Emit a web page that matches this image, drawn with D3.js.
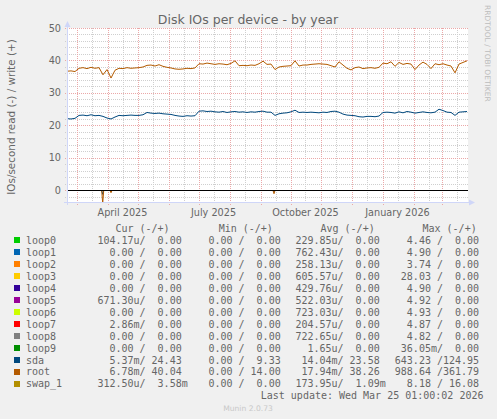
<!DOCTYPE html>
<html><head><meta charset="utf-8">
<script src="https://cdn.jsdelivr.net/npm/d3@7"></script>
<style>
html,body{margin:0;padding:0;background:#F0F0F0;}
svg{display:block;}
text{font-family:"DejaVu Sans",sans-serif;fill:#666666;}
.mono{font-family:"DejaVu Sans Mono",monospace;white-space:pre;}
</style></head><body>
<svg id="c" width="497" height="419"></svg>
<script>
// ---------- data ----------
const startDate = "2025-02-19T12:00:00Z";
const endDate = "2026-03-26T12:00:00Z";
const stepDays = 4;
// write (+) series, one value every 4 days from startDate
const rootWrite = [36.7,36.8,36.6,37.6,37.8,37.5,37.9,37.6,37.8,35.6,37.2,34.6,37.0,37.6,37.5,37.8,37.6,37.7,37.8,38.0,
  38.5,38.6,38.3,38.7,38.2,37.9,37.7,37.4,37.3,37.4,37.6,37.5,37.7,39.0,38.9,39.2,39.0,38.8,39.0,38.9,
  38.7,39.1,39.9,38.4,38.5,38.4,38.6,38.5,39.0,39.8,38.8,38.9,37.2,38.0,38.2,38.3,38.4,39.9,38.3,38.6,
  38.6,38.8,38.9,39.0,38.9,38.8,38.4,38.0,39.6,38.6,37.6,37.1,37.8,38.0,37.5,37.7,37.8,37.6,37.9,39.2,
  39.0,39.6,38.2,39.4,38.8,39.1,38.9,37.2,38.6,39.5,38.8,37.5,39.0,38.7,39.0,38.6,38.3,36.2,38.9,39.4,39.9];
const sdaWrite = [22.1,22.0,22.2,23.1,23.2,23.0,23.3,23.0,23.1,22.8,22.3,22.0,22.6,23.1,23.0,23.1,23.2,23.1,23.1,23.3,
  24.0,23.8,23.7,23.8,23.6,23.5,23.4,23.1,22.9,22.8,23.0,22.9,23.0,24.4,24.5,24.3,24.4,24.2,24.1,24.3,
  24.0,24.2,24.3,24.1,24.2,24.0,24.2,24.1,24.3,24.4,24.1,24.1,23.1,23.6,23.8,23.9,24.2,24.7,24.0,24.1,
  24.0,24.1,24.0,23.9,24.1,24.0,24.3,24.4,24.1,23.5,23.2,23.1,23.0,22.7,22.6,22.8,22.8,22.7,22.9,24.0,
  24.1,24.0,23.8,24.2,23.9,24.3,24.1,23.8,24.0,24.2,24.0,23.9,24.1,25.0,24.6,24.1,24.0,23.1,24.1,24.2,24.3];
// read (-) spikes
const readSpikeDates = ["2025-03-27T05:00:00Z","2025-04-04T12:00:00Z","2025-09-14T12:00:00Z"];
const rootRead = [-4.0,-0.7,-1.0];
const sdaRead = [-1.2,-0.3,-0.4];

const yMajorTicks = [0,10,20,30,40,50];
const xTickLabels = ["April 2025","July 2025","October 2025","January 2026"];
const xTickDates = ["2025-04-16","2025-07-16","2025-10-16","2026-01-16"];

const names = ["loop0","loop1","loop2","loop3","loop4","loop5","loop6","loop7","loop8","loop9","sda","root","swap_1"];
const colors = ["#00CC00","#0066B3","#FF8000","#FFCC00","#330099","#990099","#CCFF00","#FF0000","#808080","#008F00","#00487D","#B35A00","#B38F00"];
const curRead = ["104.17u","0.00","0.00","0.00","0.00","671.30u","0.00","2.86m","0.00","0.00","5.37m","6.78m","312.50u"];
const curWrite = ["0.00","0.00","0.00","0.00","0.00","0.00","0.00","0.00","0.00","0.00","24.43","40.04","3.58m"];
const minRead = ["0.00","0.00","0.00","0.00","0.00","0.00","0.00","0.00","0.00","0.00","0.00","0.00","0.00"];
const minWrite = ["0.00","0.00","0.00","0.00","0.00","0.00","0.00","0.00","0.00","0.00","9.33","14.00","0.00"];
const avgRead = ["229.85u","762.43u","258.13u","605.57u","429.76u","522.03u","723.03u","204.57u","722.65u","1.65u","14.04m","17.94m","173.95u"];
const avgWrite = ["0.00","0.00","0.00","0.00","0.00","0.00","0.00","0.00","0.00","0.00","23.58","38.26","1.09m"];
const maxRead = ["4.46","4.90","3.74","28.03","4.90","4.92","4.93","4.87","4.82","36.05m","643.23","988.64","8.18"];
const maxWrite = ["0.00","0.00","0.00","0.00","0.00","0.00","0.00","0.00","0.00","0.00","124.95","361.79","16.08"];

// ---------- drawing ----------
const svg = d3.select("#c");
const L = 67, R = 467, T = 28, B = 202;
const t0 = new Date(startDate), t1 = new Date(endDate);
const x = d3.scaleUtc().domain([t0, t1]).range([L, R]);
const y = d3.scaleLinear().domain([-3.55, 50]).range([B, T]);
const px = v => Math.round(v) + 0.5;

// canvas
svg.append("rect").attr("x", L).attr("y", T).attr("width", R - L + 1).attr("height", B - T).attr("fill", "#FFFFFF");

const grid = svg.append("g").attr("shape-rendering", "crispEdges");
const minorCol = "#CFCFCF", majorCol = "#EBA8A8";
// horizontal minor
d3.range(-2, 50, 2).filter(v => v % 10 !== 0).forEach(v => {
  const yy = px(y(v));
  grid.append("line").attr("x1", L - 2).attr("x2", R + 2).attr("y1", yy).attr("y2", yy)
    .attr("stroke", minorCol).attr("stroke-dasharray", "1,1");
});
// vertical minor (mid-month)
d3.utcMonth.range(d3.utcMonth.floor(t0), t1).map(d => d3.utcDay.offset(d, 15)).filter(d => d > t0 && d < t1).forEach(d => {
  const xx = px(x(d));
  grid.append("line").attr("x1", xx).attr("x2", xx).attr("y1", T).attr("y2", B + 2)
    .attr("stroke", minorCol).attr("stroke-dasharray", "1,1");
});
// horizontal major
yMajorTicks.forEach(v => {
  const yy = px(y(v));
  grid.append("line").attr("x1", L - 2).attr("x2", R + 2).attr("y1", yy).attr("y2", yy)
    .attr("stroke", majorCol).attr("stroke-dasharray", "1,1");
});
// vertical major (month starts)
d3.utcMonth.range(t0, t1).forEach(d => {
  const xx = px(x(d));
  grid.append("line").attr("x1", xx).attr("x2", xx).attr("y1", T).attr("y2", B + 3)
    .attr("stroke", majorCol).attr("stroke-dasharray", "1,1");
});

// y labels
svg.append("g").selectAll("text").data(yMajorTicks).join("text")
  .attr("x", 61).attr("y", d => y(d) + 3.5).attr("text-anchor", "end")
  .attr("font-size", "9.7px").text(d => d);
// x labels
svg.append("g").selectAll("text").data(xTickLabels).join("text")
  .attr("x", (d, i) => x(new Date(xTickDates[i] + "T00:00:00Z"))).attr("y", 215.5)
  .attr("text-anchor", "middle").attr("font-size", "9.7px").text(d => d);

// clip
svg.append("clipPath").attr("id", "clip").append("rect").attr("x", L).attr("y", T - 6).attr("width", R - L + 1).attr("height", B - T + 6);
const plot = svg.append("g").attr("clip-path", "url(#clip)");

const dates = rootWrite.map((_, i) => d3.utcDay.offset(t0, i * stepDays));
const line = d3.line().x(d => x(d[0])).y(d => y(d[1]));

function spikePts(vals) {
  const pts = [];
  readSpikeDates.forEach((s, i) => {
    const d = new Date(s);
    pts.push([[d3.utcHour.offset(d, -24), 0], [d, vals[i]], [d3.utcHour.offset(d, 24), 0]]);
  });
  return pts;
}
spikePts(sdaRead).forEach(p => plot.append("path").attr("d", line(p)).attr("fill", "none").attr("stroke", colors[10]).attr("stroke-width", 1));
spikePts(rootRead).forEach(p => plot.append("path").attr("d", line(p)).attr("fill", "none").attr("stroke", colors[11]).attr("stroke-width", 1));

plot.append("path").attr("d", line(dates.map((d, i) => [d, sdaWrite[i]])))
  .attr("fill", "none").attr("stroke", colors[10]).attr("stroke-width", 1);
plot.append("path").attr("d", line(dates.map((d, i) => [d, rootWrite[i]])))
  .attr("fill", "none").attr("stroke", colors[11]).attr("stroke-width", 1);

// zero rule
svg.append("line").attr("x1", L).attr("x2", R + 1).attr("y1", px(y(0))).attr("y2", px(y(0)))
  .attr("stroke", "#000000").attr("shape-rendering", "crispEdges");

// axes + arrows
const axisCol = "#CFD6F8";
svg.append("line").attr("x1", L + 0.5).attr("x2", L + 0.5).attr("y1", B + 3).attr("y2", T - 4).attr("stroke", axisCol).attr("shape-rendering", "crispEdges");
svg.append("line").attr("x1", L - 3).attr("x2", R + 4).attr("y1", B + 0.5).attr("y2", B + 0.5).attr("stroke", axisCol).attr("shape-rendering", "crispEdges");
svg.append("path").attr("d", `M${L + 0.5},${T - 7} L${L - 2.5},${T - 1} L${L + 3.5},${T - 1} Z`).attr("fill", axisCol);
svg.append("path").attr("d", `M${R + 8},${B + 0.5} L${R + 2},${B - 2.5} L${R + 2},${B + 3.5} Z`).attr("fill", axisCol);

// title
svg.append("text").attr("x", 248).attr("y", 24).attr("text-anchor", "middle")
  .attr("font-size", "12.5px").text("Disk IOs per device - by year");
// y-axis title
svg.append("text").attr("transform", "translate(15,117) rotate(-90)").attr("text-anchor", "middle")
  .attr("font-size", "10.4px").text("IOs/second read (-) / write (+)");
// watermark
svg.append("text").attr("transform", "translate(485,5) rotate(90)").attr("text-anchor", "start")
  .attr("font-size", "7.5px").attr("fill", "#BDBDBD").style("fill", "#BDBDBD").text("RRDTOOL / TOBI OETIKER");

// legend
const fmt = s => { const m = s.match(/^([\d.]+)([a-zA-Z]?)$/); return m[1].padStart(6) + (m[2] || " "); };
const pair = (a, b) => fmt(a) + "/" + fmt(b);
const leg = svg.append("g").attr("font-size", "10px");
const hdrY = 232, row0 = 244, rowH = 11.95;
[["Cur (-/+)", 115.4], ["Min (-/+)", 218.7], ["Avg (-/+)", 320.5], ["Max (-/+)", 422.5]].forEach(h => {
  leg.append("text").attr("class", "mono").attr("x", h[1]).attr("y", hdrY).text(h[0]);
});
names.forEach((n, i) => {
  const yy = row0 + i * rowH;
  leg.append("rect").attr("x", 14).attr("y", Math.round(yy - 6.7)).attr("width", 6).attr("height", 6).attr("fill", colors[i]);
  leg.append("text").attr("class", "mono").attr("x", 26).attr("y", yy).text(n);
  leg.append("text").attr("class", "mono").attr("x", 97.4).attr("y", yy).text(pair(curRead[i], curWrite[i]));
  leg.append("text").attr("class", "mono").attr("x", 196.4).attr("y", yy).text(pair(minRead[i], minWrite[i]));
  leg.append("text").attr("class", "mono").attr("x", 295.4).attr("y", yy).text(pair(avgRead[i], avgWrite[i]));
  leg.append("text").attr("class", "mono").attr("x", 394.8).attr("y", yy).text(pair(maxRead[i], maxWrite[i]));
});
leg.append("text").attr("class", "mono").attr("x", 483.5).attr("y", row0 + 13 * rowH).attr("text-anchor", "end")
  .text("Last update: Wed Mar 25 01:00:02 2026");
svg.append("text").attr("x", 248).attr("y", 411).attr("text-anchor", "middle").attr("font-size", "7.6px")
  .style("fill", "#C8C8C8").text("Munin 2.0.73");
</script>
</body></html>
